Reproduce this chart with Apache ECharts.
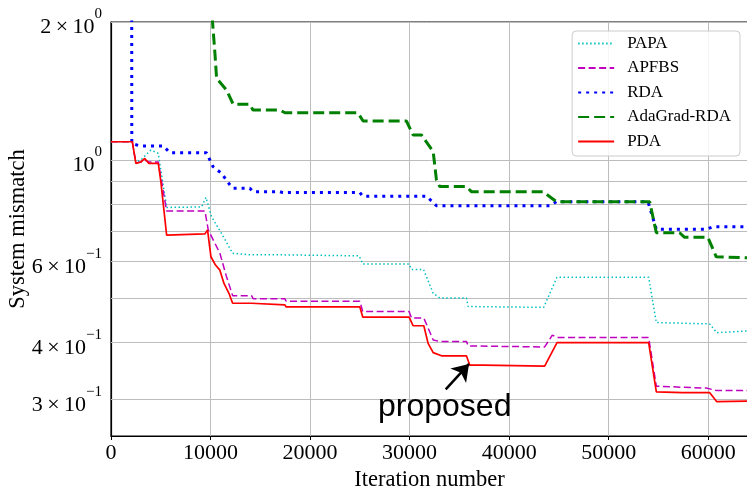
<!DOCTYPE html>
<html>
<head>
<meta charset="utf-8">
<script src="https://cdn.jsdelivr.net/npm/echarts@6/dist/echarts.min.js"></script>
<style>
  html, body { margin: 0; padding: 0; background: #fff; }
  #chart { width: 747px; height: 486px; }
</style>
</head>
<body>
<div id="chart"></div>
<script>
// values: [iteration, system mismatch]
const papa = [[0,1.096],[2140,1.096],[2500,0.99],[3000,1.0],[4000,1.051],[4750,1.034],[5590,0.788],[9100,0.79],[9540,0.829],[10100,0.752],[11100,0.692],[12220,0.626],[14000,0.621],[17150,0.621],[17300,0.618],[24930,0.618],[25300,0.593],[29950,0.593],[30200,0.577],[31400,0.577],[32370,0.512],[33040,0.5],[35710,0.5],[35880,0.479],[43470,0.477],[44810,0.555],[54020,0.555],[54790,0.442],[60140,0.439],[60870,0.42],[64000,0.424]];
const apfbs = [[0,1.096],[2140,1.096],[2500,0.985],[3000,0.99],[3400,1.0],[3800,0.99],[4750,0.99],[5590,0.774],[9440,0.774],[9770,0.704],[10940,0.626],[11610,0.556],[12220,0.506],[14120,0.506],[14300,0.498],[17470,0.498],[17600,0.492],[25000,0.492],[25300,0.467],[29950,0.467],[30200,0.452],[31430,0.452],[32370,0.405],[33000,0.402],[35710,0.402],[35900,0.393],[43570,0.391],[44340,0.415],[44800,0.41],[54020,0.41],[54790,0.321],[59800,0.318],[60900,0.314],[64000,0.314]];
const rda = [[0,5],[2070,5],[2090,1.087],[2900,1.073],[5250,1.073],[5920,1.037],[9600,1.037],[10250,0.967],[11110,0.935],[11950,0.882],[12250,0.868],[13950,0.868],[14260,0.853],[16970,0.853],[17270,0.849],[25000,0.849],[25300,0.834],[31690,0.834],[32700,0.795],[44080,0.795],[44750,0.811],[53950,0.811],[54790,0.706],[59810,0.706],[60500,0.7155],[64000,0.7155]];
const adagradRda = [[0,10],[10000,3],[10200,2.0],[10450,1.7],[10610,1.507],[11610,1.421],[12280,1.323],[13950,1.323],[14260,1.285],[16970,1.285],[17470,1.268],[24800,1.268],[25330,1.216],[29690,1.216],[30350,1.134],[31190,1.134],[32370,1.043],[32700,0.904],[33030,0.875],[35710,0.875],[36210,0.853],[43400,0.853],[44750,0.811],[54120,0.811],[54790,0.694],[57130,0.694],[57630,0.678],[59970,0.678],[60810,0.615],[64000,0.612]];
const pda = [[0,1.096],[2140,1.096],[2500,0.983],[3000,0.99],[3400,1.008],[3800,0.983],[4750,0.983],[5000,0.9],[5590,0.686],[9440,0.69],[9700,0.704],[10040,0.615],[10500,0.59],[10940,0.575],[11350,0.538],[11850,0.512],[12220,0.487],[14120,0.487],[14300,0.483],[17470,0.483],[17600,0.478],[25000,0.478],[25300,0.454],[29950,0.454],[30350,0.435],[31430,0.435],[31860,0.398],[32370,0.38],[33200,0.374],[35710,0.374],[36040,0.357],[37380,0.357],[37500,0.355],[43570,0.355],[44810,0.3995],[54020,0.3995],[54790,0.312],[57430,0.311],[60140,0.311],[60870,0.297],[64000,0.298]];

const seriesNames = ['PAPA', 'APFBS', 'RDA', 'AdaGrad-RDA', 'PDA'];

// y axis grid values and the labelled ones
const yGridValues = [0.3, 0.4, 0.5, 0.6, 0.7, 0.8, 0.9, 1, 2];
const yTickValues = [2, 1, 0.6, 0.4, 0.3];
const yTickMantissa = ['2', '', '6', '4', '3'];
const yTickExponent = ['0', '0', '\u22121', '\u22121', '\u22121'];

// annotation
const arrowFrom = [33630, 0.316];
const arrowTo = [35970, 0.359];
const annotText = 'proposed';
const annotPos = [33530, 0.289];

const serif = 'Liberation Serif';

const tickLabel = (i) => {
  const m = yTickMantissa[i] ? yTickMantissa[i] + '\u2009\u00d7\u200910' : '10';
  return '{m|' + m + '}{e|' + yTickExponent[i] + '}';
};

const myChart = echarts.init(document.getElementById('chart'), null, {renderer: 'canvas'});

const lineBase = (name, data, color, width, type) => ({
  name: name,
  type: 'line',
  data: data,
  symbol: 'none',
  clip: true,
  silent: true,
  lineStyle: {color: color, width: width, type: type},
  itemStyle: {color: color},
  z: 3
});

const option = {
  backgroundColor: '#fff',
  animation: false,
  grid: {
    left: 111, right: -1, top: 22, bottom: 50,
    outerBoundsMode: 'none',
    containLabel: false,
    show: true, borderColor: '#000', borderWidth: 1.2
  },
  xAxis: {
    type: 'value',
    min: 0, max: 64000, interval: 10000,
    name: 'Iteration number',
    nameLocation: 'middle',
    nameGap: 26,
    nameTextStyle: {fontFamily: serif, fontSize: 22.5, color: '#000'},
    axisLine: {show: true, lineStyle: {color: '#000', width: 1.2}},
    axisTick: {show: true, length: 4, lineStyle: {color: '#000'}},
    axisLabel: {fontFamily: serif, fontSize: 22, color: '#000', margin: 6, showMaxLabel: false,
      formatter: v => String(v)},
    splitLine: {show: true, lineStyle: {color: '#bdbdbd', width: 1}}
  },
  yAxis: {
    type: 'log',
    logBase: 10,
    min: 0.25, max: 2,
    name: 'System mismatch',
    nameLocation: 'middle',
    nameGap: 81,
    nameTextStyle: {fontFamily: serif, fontSize: 22.5, color: '#000'},
    axisLine: {show: true, lineStyle: {color: '#000', width: 1.2}},
    axisTick: {show: false},
    axisLabel: {show: false},
    splitLine: {show: false}
  },
  legend: {
    data: seriesNames,
    orient: 'vertical',
    right: 7, top: 31,
    padding: [4, 9, 6, 5],
    itemWidth: 36, itemHeight: 14,
    itemGap: 7.5,
    itemStyle: {opacity: 0},
    backgroundColor: 'rgba(255,255,255,0.85)',
    borderColor: '#cccccc', borderWidth: 1, borderRadius: 4,
    textStyle: {fontFamily: serif, fontSize: 17, color: '#000', lineHeight: 17, padding: [0, 0, 0, 8]}
  },
  series: [
    // grid lines and y tick labels on the log axis
    {
      name: 'grid', type: 'line', data: [], silent: true, z: 1,
      markLine: {
        silent: true, z: 1, symbol: 'none', animation: false,
        lineStyle: {color: '#bdbdbd', width: 1, type: 'solid'},
        data: yGridValues.map(v => {
          const i = yTickValues.indexOf(v);
          return {
            yAxis: v,
            label: i < 0 ? {show: false} : {
              show: true, position: 'start', distance: 9,
              formatter: tickLabel(i),
              rich: {
                m: {fontFamily: serif, fontSize: 22, color: '#000', padding: [11, 0, 0, 0]},
                e: {fontFamily: serif, fontSize: 15, color: '#000', padding: [0, 0, 15, 0]}
              }
            }
          };
        })
      }
    },
    lineBase('PAPA', papa, '#00bfbf', 1.5, [1.5, 2.5]),
    lineBase('APFBS', apfbs, '#bf00bf', 1.5, [7, 3.5]),
    lineBase('RDA', rda, '#0000ff', 3, [3, 5]),
    lineBase('AdaGrad-RDA', adagradRda, '#008000', 3, [11, 5]),
    Object.assign(lineBase('PDA', pda, '#ff0000', 1.7, 'solid'), {
      markLine: {
        silent: true, animation: false, z: 6,
        symbol: ['none', 'arrow'], symbolSize: 16,
        itemStyle: {color: '#000'},
        lineStyle: {color: '#000', width: 2.5, type: 'solid'},
        label: {show: false},
        data: [[
          {coord: arrowFrom, symbol: 'none', itemStyle: {color: '#000'}},
          {coord: arrowTo, symbol: 'arrow', symbolSize: 16, itemStyle: {color: '#000'}}
        ]]
      },
      markPoint: {
        silent: true, symbol: 'circle', symbolSize: 0, animation: false,
        label: {show: true, position: 'inside', formatter: annotText,
          fontFamily: 'Liberation Sans', fontSize: 32, color: '#000'},
        data: [{coord: annotPos}]
      }
    })
  ]
};

myChart.setOption(option);
</script>
</body>
</html>
